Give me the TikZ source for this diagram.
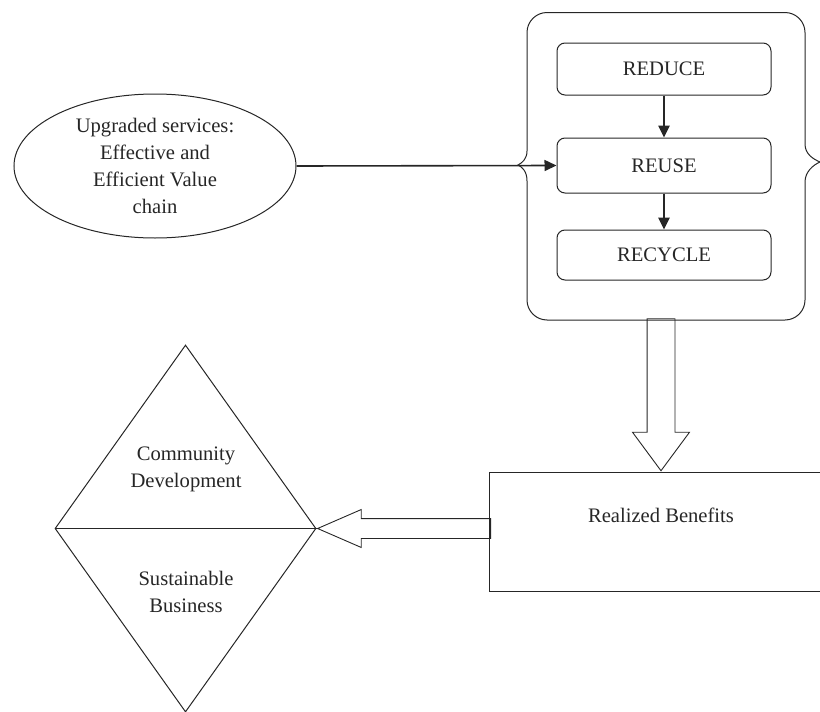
\documentclass[tikz,border=0pt]{standalone}
\usepackage{fontspec}
\setmainfont{Liberation Serif}
\usetikzlibrary{positioning,shapes.geometric,shapes.arrows,arrows.meta}

\begin{document}
\begin{tikzpicture}[
		x=1pt, y=-1pt,
		line width=1pt, draw=black!85,
		every node/.style={align=center, font=\fontsize{20.6}{27}\selectfont, text=black!85},
		stage/.style={draw, rounded corners=8pt, minimum width=214pt, minimum height=52pt},
		hollow/.style={draw, single arrow, single arrow head indent=0pt, inner xsep=0pt, line width=0.9pt},
		flow/.style={-{Triangle[length=12pt,width=11pt]}}
		]
		\useasboundingbox (0,0) rectangle (820,712);
		
		\node[ellipse, draw, minimum width=282pt, minimum height=144pt, inner sep=0pt] (upgraded) at (155,166)
			{Upgraded services:\\Effective and\\Efficient Value\\chain};
		
		% the three R's
		\node[stage] (reduce) at (664,69) {REDUCE};
		\node[stage, minimum height=55pt, below=42pt of reduce] (reuse) {REUSE};
		\node[stage, minimum height=50pt, below=36pt of reuse] (recycle) {RECYCLE};
		
		% brace box round them
		\draw (527,181) -- (527,300) .. controls (527,311) and (536,320) .. (547,320)
			-- (785,320) .. controls (796,320) and (805,311) .. (805,300)
			-- (805,182) .. controls (805,172) and (813,165) .. (820,162)
			.. controls (813,159) and (805,154) .. (805,144)
			-- (805,32.5) .. controls (805,21.5) and (796,12.5) .. (785,12.5)
			-- (547,12.5) .. controls (536,12.5) and (527,21.5) .. (527,32.5)
			-- (527,151) .. controls (527,159) and (522,163) .. (518,165)
			.. controls (522,167) and (527,171) .. (527,181);
		
		\draw[flow, line width=2.5pt] (reduce) -- (reuse);
		\draw[flow, line width=2.5pt] (reuse) -- (recycle);
		\draw[flow, line width=1.6pt] (upgraded.east) -- (reuse.west);
		
		\node[draw, minimum width=344pt, minimum height=119pt] (benefits) at (661,531.5) {};
		\node (benefitstext) at (661,515) {Realized Benefits};
		
		\node[diamond, draw, minimum width=261pt, minimum height=367pt, inner sep=0pt] (goals) at (185.5,528.5) {};
		\draw (goals.west) -- (goals.east);
		\node (community) at (186,469) {Community\\Development};
		\node (sustainable) at (186,592) {Sustainable\\Business};
		
		% hollow arrows
		\node[hollow, rotate=-90, anchor=tip, minimum height=152pt, minimum width=56pt, inner ysep=13.5pt,
			single arrow tip angle=73, single arrow head extend=14.5pt] (todown) at (benefits.north) {};
		\node[hollow, rotate=180, anchor=tip, minimum height=173pt, minimum width=37pt, inner ysep=9.5pt,
			single arrow tip angle=47, single arrow head extend=9pt] (toleft) at (goals.east) {};
		
	\end{tikzpicture}
\end{document}
